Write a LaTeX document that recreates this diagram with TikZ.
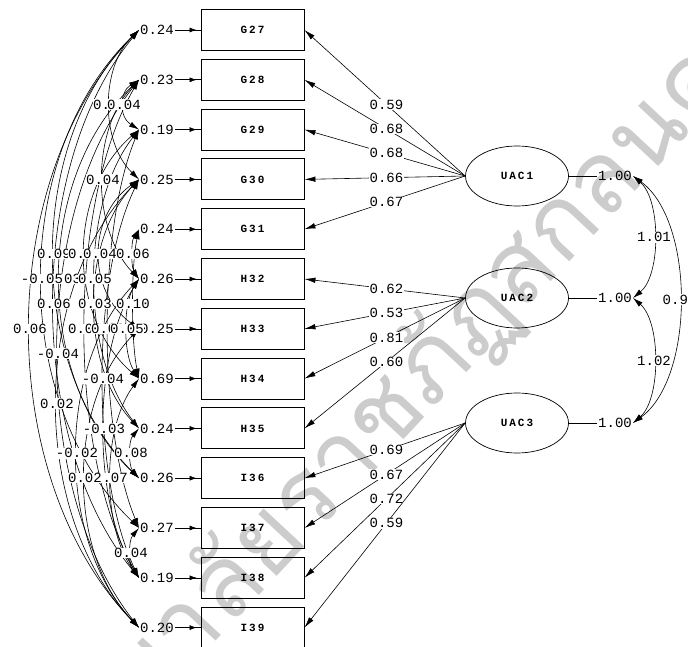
\documentclass[tikz,border=0pt]{standalone}
\usepackage{fontspec}
\setmainfont{Liberation Mono}
\newfontfamily\thaifont[Script=Thai]{Loma}
\newfontfamily\boxfont[LetterSpace=18]{Liberation Mono}
\usetikzlibrary{arrows.meta,shapes.geometric,calc}
\pgfdeclarelayer{bg}
\pgfdeclarelayer{fg}
\pgfsetlayers{bg,main,fg}
\tikzset{
  obs/.style={draw, line width=0.9pt, minimum width=103pt, minimum height=41pt, inner sep=0pt,
    font=\boxfont\bfseries\fontsize{11}{11}\selectfont},
  lat/.style={ellipse, draw, line width=0.7pt, minimum width=103pt, minimum height=60pt, inner sep=0pt,
    font=\boxfont\bfseries\fontsize{11}{11}\selectfont},
  num/.style={font=\fontsize{14}{14}\selectfont, inner sep=1pt},
  lab/.style={num, fill=white, inner sep=0.5pt},
  load/.style={arrows={-Latex[length=11pt,width=5.5pt]}, line width=0.6pt},
  errarr/.style={arrows={-Latex[length=7pt,width=5pt]}, line width=0.6pt, shorten >=4pt},
  cov/.style={arrows={Latex[length=10pt,width=5.5pt]-Latex[length=10pt,width=5.5pt]}, line width=0.6pt},
  wmark/.style={text=black!20, font=\thaifont\fontsize{100}{100}\selectfont, inner sep=0pt}
}
\newcommand\covarc[4]{%
  \draw[cov] (#1.west) .. controls ($(#1.west)!0.25!(#2.west)+(-1.333*#3,0)$)
     and ($(#1.west)!0.75!(#2.west)+(-1.333*#3,0)$) .. (#2.west);
  \begin{pgfonlayer}{fg}
    \node[lab] at ($(#1.west)!0.5!(#2.west)+(-#3,0)$) {#4};
  \end{pgfonlayer}
}
\begin{document}
\begin{tikzpicture}[x=1pt,y=-1pt]
\useasboundingbox (0,0) rectangle (688,647);
\begin{pgfonlayer}{bg}
  \node[wmark, rotate=47] (wm) at (335,470) {มหาวิทยาลัยราชภัฏสกลนคร};
\end{pgfonlayer}

% observed variables and error variances
\foreach \nm/\ev [count=\i] in {G27/0.24, G28/0.23, G29/0.19, G30/0.25, G31/0.24,
   H32/0.26, H33/0.25, H34/0.69, H35/0.24, I36/0.26, I37/0.27, I38/0.19, I39/0.20} {
  \node[obs] (\nm) at (252.5, {30+49.8*(\i-1)}) {\nm};
  \node[num] (d\i) at (157, {30+49.8*(\i-1)}) {\ev};
  \draw[line width=0.6pt] (d\i.east) -- (\nm.west);
  \draw[errarr] (d\i.east) -- (\nm.west);
}

% latent variables
\node[lat] (UAC1) at (517,176) {UAC1};
\node[lat] (UAC2) at (517,298) {UAC2};
\node[lat] (UAC3) at (517,423) {UAC3};

% loadings
\foreach \t/\v in {G27/0.59, G28/0.68, G29/0.68, G30/0.66, G31/0.67}
  \draw[load] (UAC1.west) -- node[lab, pos=0.49] {\v} (\t.east);
\foreach \t/\v in {H32/0.62, H33/0.53, H34/0.81, H35/0.60}
  \draw[load] (UAC2.west) -- node[lab, pos=0.49] {\v} (\t.east);
\foreach \t/\v in {I36/0.69, I37/0.67, I38/0.72, I39/0.59}
  \draw[load] (UAC3.west) -- node[lab, pos=0.49] {\v} (\t.east);

% factor variances
\node[num] (v1) at (615,176) {1.00};
\node[num] (v2) at (615,298) {1.00};
\node[num] (v3) at (615,423) {1.00};
\draw[line width=0.6pt] (UAC1.east) -- (v1.west);
\draw[line width=0.6pt] (UAC2.east) -- (v2.west);
\draw[line width=0.6pt] (UAC3.east) -- (v3.west);

% factor correlations
\draw[cov] (v1.east) .. controls +(28,24) and +(28,-23) .. node[lab, pos=0.5] {1.01} (v2.east);
\draw[cov] (v2.east) .. controls +(28,24) and +(28,-24) .. node[lab, pos=0.5] {1.02} (v3.east);
\draw[cov] (v1.east) .. controls +(62,45) and +(62,-45) .. node[lab, pos=0.5] {0.92} (v3.east);

% error covariances
\covarc{d1}{d4}{29}{0.04}
\covarc{d2}{d3}{15}{0.04}
\covarc{d2}{d6}{36}{0.04}
\covarc{d1}{d10}{85}{0.09}
\covarc{d3}{d8}{54}{0.06}
\covarc{d4}{d7}{39}{0.04}
\covarc{d5}{d6}{6}{0.06}
\covarc{d2}{d10}{79}{-0.03}
\covarc{d1}{d11}{97}{-0.05}
\covarc{d3}{d9}{44}{0.05}
\covarc{d1}{d12}{85}{0.06}
\covarc{d4}{d9}{44}{0.03}
\covarc{d5}{d8}{6}{0.10}
\covarc{d1}{d13}{109}{0.06}
\covarc{d2}{d12}{54}{0.08}
\covarc{d3}{d11}{31}{0.03}
\covarc{d6}{d8}{12}{0.05}
\covarc{d2}{d13}{81}{-0.04}
\covarc{d4}{d12}{36}{-0.04}
\covarc{d4}{d13}{82}{0.02}
\covarc{d6}{d12}{35}{-0.03}
\covarc{d6}{d13}{62}{-0.02}
\covarc{d9}{d10}{8}{0.08}
\covarc{d8}{d12}{28}{0.07}
\covarc{d7}{d13}{54}{0.02}
\covarc{d11}{d12}{8}{0.04}
\end{tikzpicture}
\end{document}
